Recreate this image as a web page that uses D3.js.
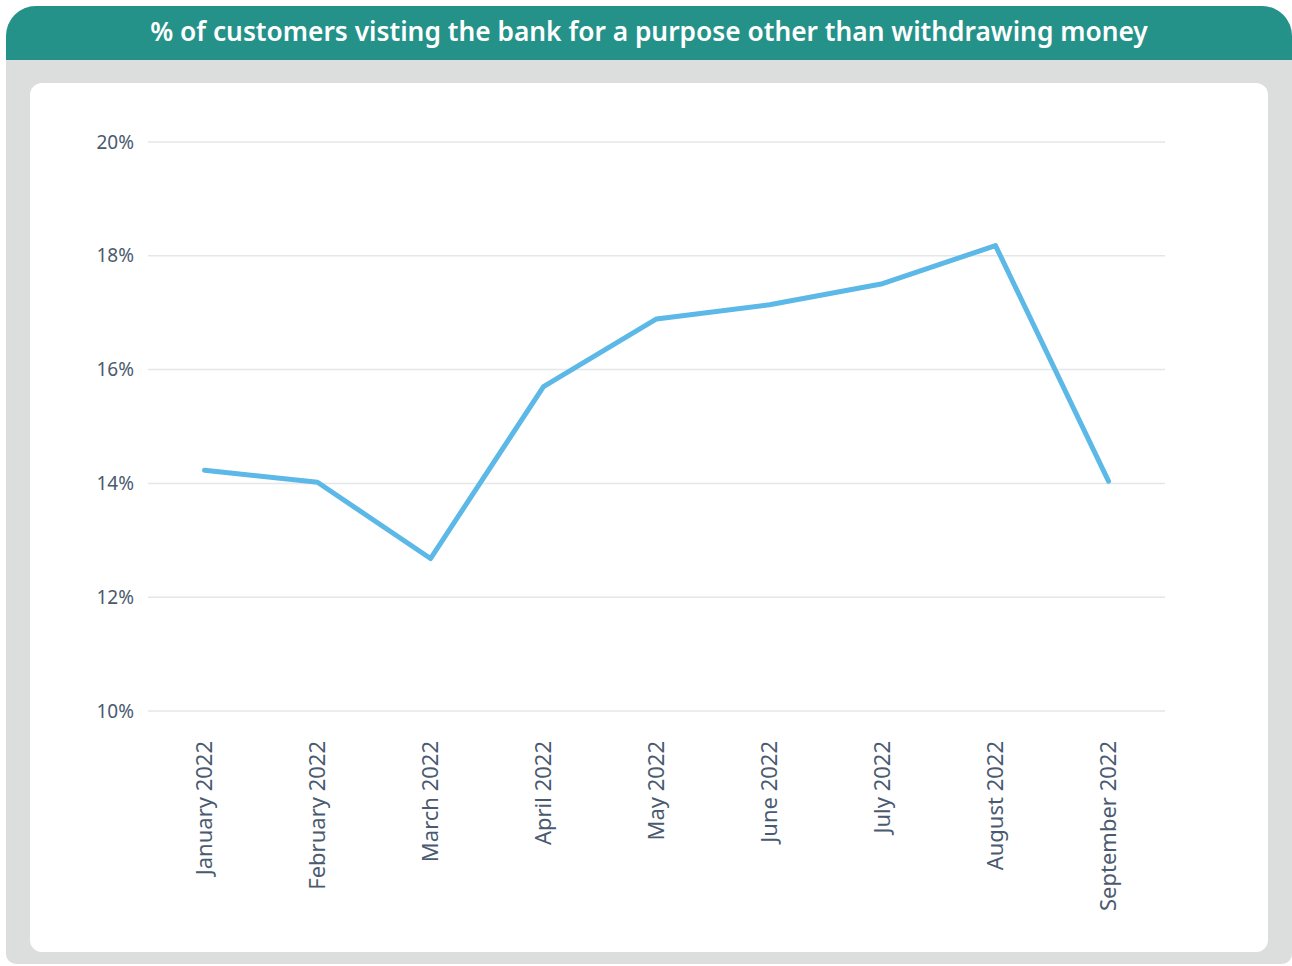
<!DOCTYPE html>
<html>
<head>
<meta charset="utf-8">
<script src="https://cdn.jsdelivr.net/npm/d3@7"></script>
<style>
  html, body { margin: 0; padding: 0; background: #ffffff; }
  svg { display: block; }
</style>
</head>
<body>
<svg id="chart" width="1292" height="966"></svg>
<script>
// Monthly share of customers visiting for reasons other than withdrawals
const months = ["January 2022", "February 2022", "March 2022", "April 2022", "May 2022",
                "June 2022", "July 2022", "August 2022", "September 2022"];
const shareValues = [14.23, 14.02, 12.68, 15.70, 16.89, 17.14, 17.51, 18.18, 14.04];
const yTicks = [10, 12, 14, 16, 18, 20];
const titleText = "% of customers visting the bank for a purpose other than withdrawing money";

const svg = d3.select("#chart");
const font = "'Noto Sans', 'Open Sans', sans-serif";

// Panel: grey frame with teal header
function roundedPath(x, y, w, h, rtl, rtr, rbr, rbl) {
  return `M${x + rtl},${y} H${x + w - rtr} A${rtr},${rtr} 0 0 1 ${x + w},${y + rtr}
          V${y + h - rbr} A${rbr},${rbr} 0 0 1 ${x + w - rbr},${y + h}
          H${x + rbl} A${rbl},${rbl} 0 0 1 ${x},${y + h - rbl}
          V${y + rtl} A${rtl},${rtl} 0 0 1 ${x + rtl},${y} Z`;
}
svg.append("path")
  .attr("d", roundedPath(6, 6, 1286, 958, 30, 30, 10, 10))
  .attr("fill", "#dcdedd");
svg.append("path")
  .attr("d", roundedPath(6, 6, 1286, 54, 30, 30, 0, 0))
  .attr("fill", "#25928a");
svg.append("rect")
  .attr("x", 30).attr("y", 83).attr("width", 1238).attr("height", 869)
  .attr("rx", 12).attr("fill", "#ffffff");

const title = svg.append("text")
  .attr("x", 649).attr("y", 41)
  .attr("text-anchor", "middle")
  .attr("fill", "#ffffff")
  .attr("font-family", font)
  .attr("font-weight", 600)
  .attr("font-size", 24)
  .text(titleText);
// fit the header text to its span
const tw = title.node().getComputedTextLength();
title.attr("font-size", 24 * 998 / tw);

// Scales
const x = d3.scaleBand().domain(months).range([148, 1165]);
const y = d3.scaleLinear().domain([10, 20]).range([711, 142]);

// Gridlines
svg.append("g")
  .selectAll("line")
  .data(yTicks)
  .join("line")
  .attr("x1", 148).attr("x2", 1165)
  .attr("y1", d => y(d)).attr("y2", d => y(d))
  .attr("stroke", "#e4e6e8").attr("stroke-width", 1.5);

// Y axis labels
const yAxis = svg.append("g")
  .attr("transform", "translate(134,0)")
  .call(d3.axisLeft(y).tickValues(yTicks).tickSize(0).tickPadding(0).tickFormat(d => d + "%"));
yAxis.select(".domain").remove();
yAxis.selectAll("text")
  .attr("font-family", font)
  .attr("font-size", 19)
  .attr("fill", "#4a5a70");

// X axis labels (rotated)
const xAxis = svg.append("g")
  .attr("transform", "translate(0,711)")
  .call(d3.axisBottom(x).tickSize(0).tickPadding(0));
xAxis.select(".domain").remove();
xAxis.selectAll("text")
  .attr("font-family", font)
  .attr("font-size", 22)
  .attr("fill", "#4a5a70")
  .attr("text-anchor", "end")
  .attr("dy", "0.35em")
  .attr("transform", "translate(0,30) rotate(-90)");

// Line
const line = d3.line()
  .x((d, i) => x(months[i]) + x.bandwidth() / 2)
  .y(d => y(d));
svg.append("path")
  .datum(shareValues)
  .attr("d", line)
  .attr("fill", "none")
  .attr("stroke", "#5cb8e6")
  .attr("stroke-width", 5)
  .attr("stroke-linejoin", "round")
  .attr("stroke-linecap", "round");
</script>
</body>
</html>
